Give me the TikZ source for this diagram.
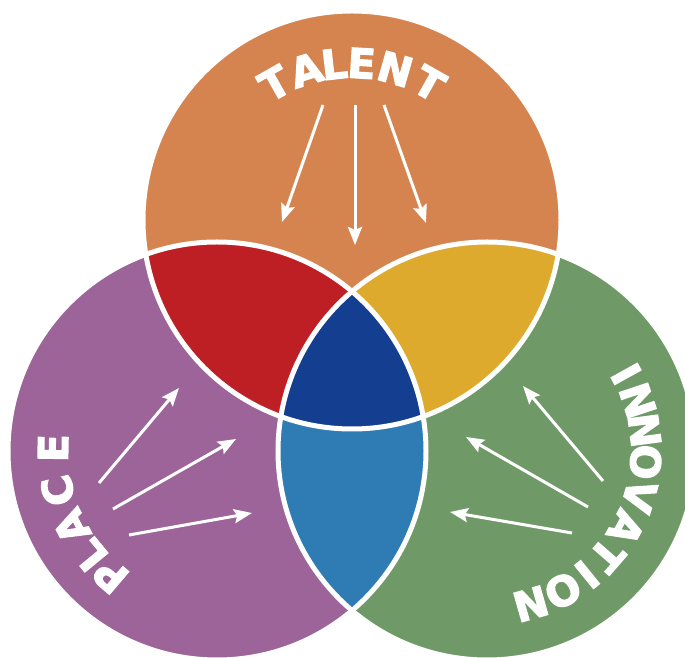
\documentclass[tikz,border=0pt]{standalone}
\usepackage{fontspec}
\newfontfamily\vennfont{DejaVu Sans}[BoldFeatures={FakeBold=3}]
\usetikzlibrary{calc,arrows.meta}
\definecolor{talentc}{HTML}{D6844F}
\definecolor{placec}{HTML}{9C6499}
\definecolor{innovc}{HTML}{6F9A68}
\definecolor{tpred}{HTML}{BE1F25}
\definecolor{tiyel}{HTML}{DDAA2D}
\definecolor{pibl}{HTML}{2F7CB4}
\definecolor{alldb}{HTML}{143E8F}
\begin{document}
\begin{tikzpicture}[x=1pt,y=1pt,
    ring/.style={draw=white,line width=5pt},
    flow/.style={white,line width=3pt,-{Stealth[length=18pt,width=14pt,inset=3pt]}},
    word/.style={white,inner sep=0pt,font=\vennfont\bfseries\fontsize{41}{41}\selectfont}]
	\useasboundingbox (0,0) rectangle (685,658);
	\fill[white] (0,0) rectangle (685,658);
	\clip (0,0) rectangle (685,658);
	\coordinate (talent) at (352,438);
	\coordinate (place) at (217,207);
	\coordinate (innov) at (487,207);
	% the three sets
	\fill[talentc] (talent) circle (209);
	\fill[placec] (place) circle (209);
	\fill[innovc] (innov) circle (209);
	\begin{scope}
		\clip (place) circle (209);
		\fill[pibl] (innov) circle (209);
	\end{scope}
	\begin{scope}
		\clip (talent) circle (209);
		\fill[tpred] (place) circle (209);
		\fill[tiyel] (innov) circle (209);
		\clip (place) circle (209);
		\fill[alldb] (innov) circle (209);
	\end{scope}
	\foreach \c in {talent,place,innov}
		\draw[ring] (\c) circle (209);
	% arrows
	\foreach \xa/\ya/\xb/\yb in {323/553/282/436, 355/553/355/413, 384/553/426/435,
			99/175/179/270, 113/149/236/219, 129/123/252/145,
			603/177/523/272, 588/151/466/221, 572/125/450/146}
		\draw[flow] (\xa,\ya) -- (\xb,\yb);
	% labels
	\foreach \a/\ch in {119.5/T,107/A,96.5/L,86.5/E,74/N,60.5/T}
		\node[word,rotate=\a-90] at ($(talent)+(\a:157)$) {\ch};
	\foreach \a/\ch in {229.5/P,219.5/L,207.5/A,194/C,179/E}
		\node[word,rotate=\a-90] at ($(place)+(\a:164)$) {\ch};
	\foreach \a/\ch in {29/I,18.5/N,7.5/N,-4/O,-16.5/V,-29/A,-41/T,-51/I,-61.5/O,-74/N}
		\node[word,rotate=\a-90] at ($(innov)+(\a:159)$) {\ch};
\end{tikzpicture}
\end{document}
